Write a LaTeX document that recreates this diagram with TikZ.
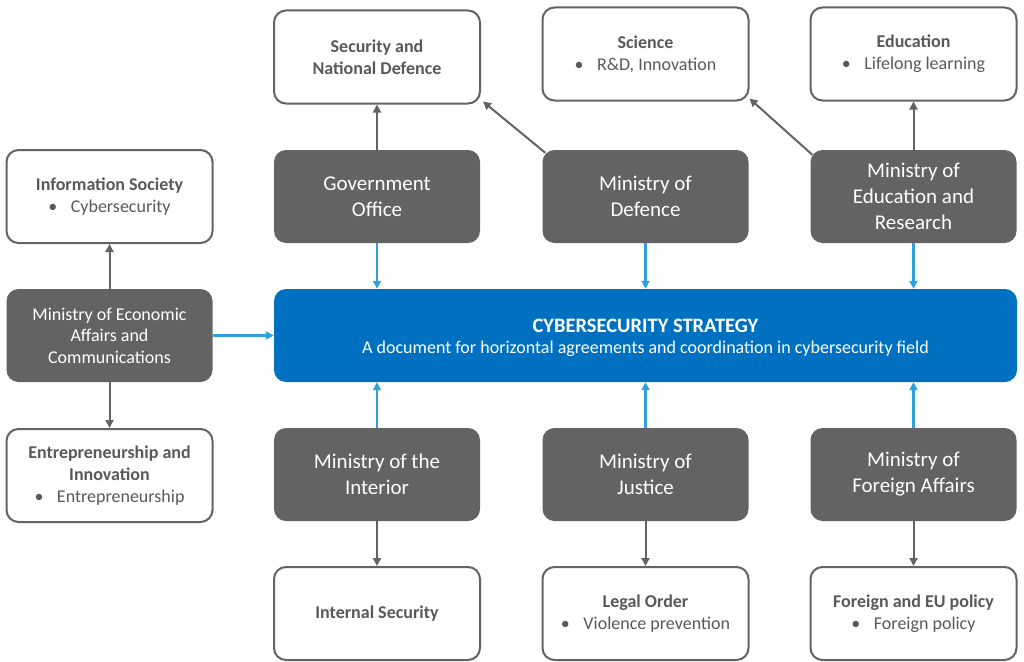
\documentclass[tikz,border=0pt]{standalone}
\usepackage{fontspec}
\setmainfont{Carlito}
\usetikzlibrary{arrows.meta}
\definecolor{dgray}{HTML}{636363}
\definecolor{tgray}{HTML}{595959}
\definecolor{sblue}{HTML}{0070C0}
\definecolor{lblue}{HTML}{2EA0DE}
\tikzset{
  base/.style={rectangle, rounded corners=12pt, minimum width=206pt, minimum height=93pt, inner sep=0pt, align=center},
  darkbox/.style={base, fill=dgray, text=white, font=\fontsize{21}{26}\selectfont},
  ecobox/.style={base, fill=dgray, text=white, font=\fontsize{18}{21.5}\selectfont},
  whitebox/.style={base, draw=dgray, line width=2pt, fill=white, text=tgray, font=\fontsize{18}{22}\selectfont},
  bluebox/.style={base, fill=sblue, text=white, minimum width=743pt},
  garrow/.style={draw=dgray, line width=2pt, -{Triangle[length=8pt,width=8pt]}},
  barrow/.style={draw=lblue, line width=2.2pt, -{Triangle[length=8pt,width=8pt]}},
}
\newcommand{\bul}[1]{\textbullet\hspace{0.75em}#1}
\begin{document}
\begin{tikzpicture}[x=1pt,y=-1pt]
\useasboundingbox (0,0) rectangle (1024,661);
% top white boxes
\node[whitebox] (sec) at (377,57) {\textbf{Security and}\\\textbf{National Defence}};
\node[whitebox] (sci) at (645.5,54) {\textbf{Science}\\\bul{R\&D, Innovation}};
\node[whitebox] (edu) at (913.5,54) {\textbf{Education}\\\bul{Lifelong learning}};
% left column
\node[whitebox] (inf) at (109.5,196.5) {\textbf{Information Society}\\\bul{Cybersecurity}};
\node[ecobox] (eco) at (109.5,335.5) {Ministry of Economic\\Affairs and\\Communications};
\node[whitebox] (ent) at (109.5,475.5) {\textbf{Entrepreneurship and}\\\textbf{Innovation}\\\bul{Entrepreneurship}};
% upper ministries
\node[darkbox] (gov) at (377,196.5) {Government\\Office};
\node[darkbox] (def) at (645.5,196.5) {Ministry of\\Defence};
\node[darkbox] (edr) at (913.5,196.5) {Ministry of\\Education and\\Research};
% strategy
\node[bluebox] (cs) at (645.5,335.5) {{\fontsize{20.5}{24}\selectfont\rule{0pt}{18pt}\textbf{CYBERSECURITY STRATEGY}}\\[8pt]{\fontsize{18}{22}\selectfont A document for horizontal agreements and coordination in cybersecurity field}};
% lower ministries
\node[darkbox] (int) at (377,474.5) {Ministry of the\\Interior};
\node[darkbox] (jus) at (645.5,474.5) {Ministry of\\Justice};
\node[darkbox] (for) at (913.5,474.5) {Ministry of\\Foreign Affairs};
% bottom white boxes
\node[whitebox] (isec) at (377,613.5) {\textbf{Internal Security}};
\node[whitebox] (leg) at (645.5,613.5) {\textbf{Legal Order}\\\bul{Violence prevention}};
\node[whitebox] (feu) at (913.5,613.5) {\textbf{Foreign and EU policy}\\\bul{Foreign policy}};
% gray arrows
\draw[garrow] (gov.north) -- (sec.south);
\draw[garrow] ([shift={(3,3)}]def.north west) -- ([shift={(2,-3)}]sec.south east);
\draw[garrow] ([shift={(2,5)}]edr.north west) -- ([shift={(0,-3)}]sci.south east);
\draw[garrow] (edr.north) -- (edu.south);
\draw[garrow] (eco.north) -- (inf.south);
\draw[garrow] (eco.south) -- (ent.north);
\draw[garrow] (int.south) -- (isec.north);
\draw[garrow] (jus.south) -- (leg.north);
\draw[garrow] (for.south) -- (feu.north);
% blue arrows
\draw[barrow] (gov.south) -- (gov.south |- cs.north);
\draw[barrow] (def.south) -- (def.south |- cs.north);
\draw[barrow] (edr.south) -- (edr.south |- cs.north);
\draw[barrow] (int.north) -- (int.north |- cs.south);
\draw[barrow] (jus.north) -- (jus.north |- cs.south);
\draw[barrow] (for.north) -- (for.north |- cs.south);
\draw[barrow] (eco.east) -- (eco.east -| cs.west);
\end{tikzpicture}
\end{document}
